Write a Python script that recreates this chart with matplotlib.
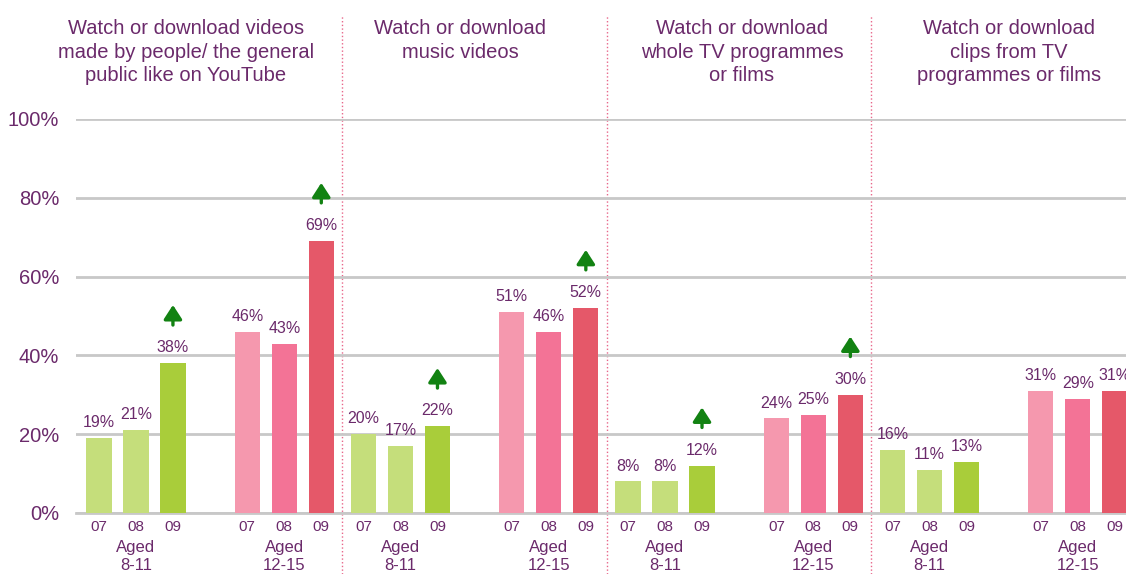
import numpy as np
from matplotlib import pyplot as plt
import matplotlib.transforms as mtransforms

plt.rcParams['font.family'] = ['Liberation Sans', 'DejaVu Sans']

# data
panels = ["Watch or download videos\nmade by people/ the general\npublic like on YouTube",
          "Watch or download\nmusic videos",
          "Watch or download\nwhole TV programmes\nor films",
          "Watch or download\nclips from TV\nprogrammes or films"]
ages = ["Aged\n8-11", "Aged\n12-15"]
years = ["07", "08", "09"]
# values[panel][age] = 07, 08, 09
values = [[[19, 21, 38], [46, 43, 69]],
          [[20, 17, 22], [51, 46, 52]],
          [[8, 8, 12], [24, 25, 30]],
          [[16, 11, 13], [31, 29, 31]]]
# significant increase arrows on the 09 bar
arrows = [[True, True], [True, True], [True, True], [False, False]]

purple = "#6b2a6b"
green = "#128212"
colors = [["#c5de7b", "#c5de7b", "#a9cd3a"],
          ["#f598ae", "#f37396", "#e55869"]]

panel_w = 7.15
age_w = 4.01
bar_w = 0.68

fig = plt.figure(figsize=(11.26, 5.74), dpi=100)
ax = fig.add_axes([76 / 1126, 61 / 574, 1050 / 1126, 394 / 574])

trans = mtransforms.blended_transform_factory(ax.transData, ax.transAxes)

for p in range(4):
    for a in range(2):
        xs = p * panel_w + a * age_w + np.arange(3)
        v = values[p][a]
        ax.bar(xs, v, width=bar_w, color=colors[a], zorder=3)
        for x, val in zip(xs, v):
            ax.text(x, val + 2, f"{val}%", ha="center", va="bottom",
                    fontsize=11.5, color=purple)
        for x, yr in zip(xs, years):
            ax.text(x, -0.036, yr, ha="center", va="center", fontsize=11,
                    color=purple, transform=trans)
        ax.text(xs[1], -0.068, ages[a], ha="center", va="top", fontsize=12,
                color=purple, transform=trans, linespacing=1.3)
        if arrows[p][a]:
            ax.annotate("", xy=(xs[2], v[2] + 15.5), xytext=(xs[2], v[2] + 9),
                        arrowprops=dict(arrowstyle="-|>,head_width=0.55,head_length=0.85",
                                        color=green, lw=2.4))
    if p < 3:
        xd = p * panel_w + age_w + 2 + (panel_w - age_w - 2) / 2
        ax.axvline(xd, ymin=-0.155, ymax=1.264, color="#e8668a", ls=":",
                   lw=1, clip_on=False, zorder=1)

title_x = [186, 460, 742, 1009]
for tx, t in zip(title_x, panels):
    fig.text(tx / 1126, 1 - 19 / 574, t, ha="center", va="top", fontsize=14.5,
             color=purple, linespacing=1.3)

ax.set_xlim(-0.62, 27.76)
ax.set_ylim(0, 100)
ax.set_yticks(np.arange(0, 101, 20))
ax.set_yticklabels([f"{t}%" for t in range(0, 101, 20)], fontsize=14.5, color=purple)
ax.tick_params(axis="y", length=0, pad=12)
ax.set_xticks([])
ax.grid(axis="y", color="#c8c8c8", lw=2, zorder=0)
for s in ["top", "right", "left"]:
    ax.spines[s].set_visible(False)
ax.spines["bottom"].set_color("#c8c8c8")
ax.spines["bottom"].set_linewidth(2)

plt.savefig("out.png")
